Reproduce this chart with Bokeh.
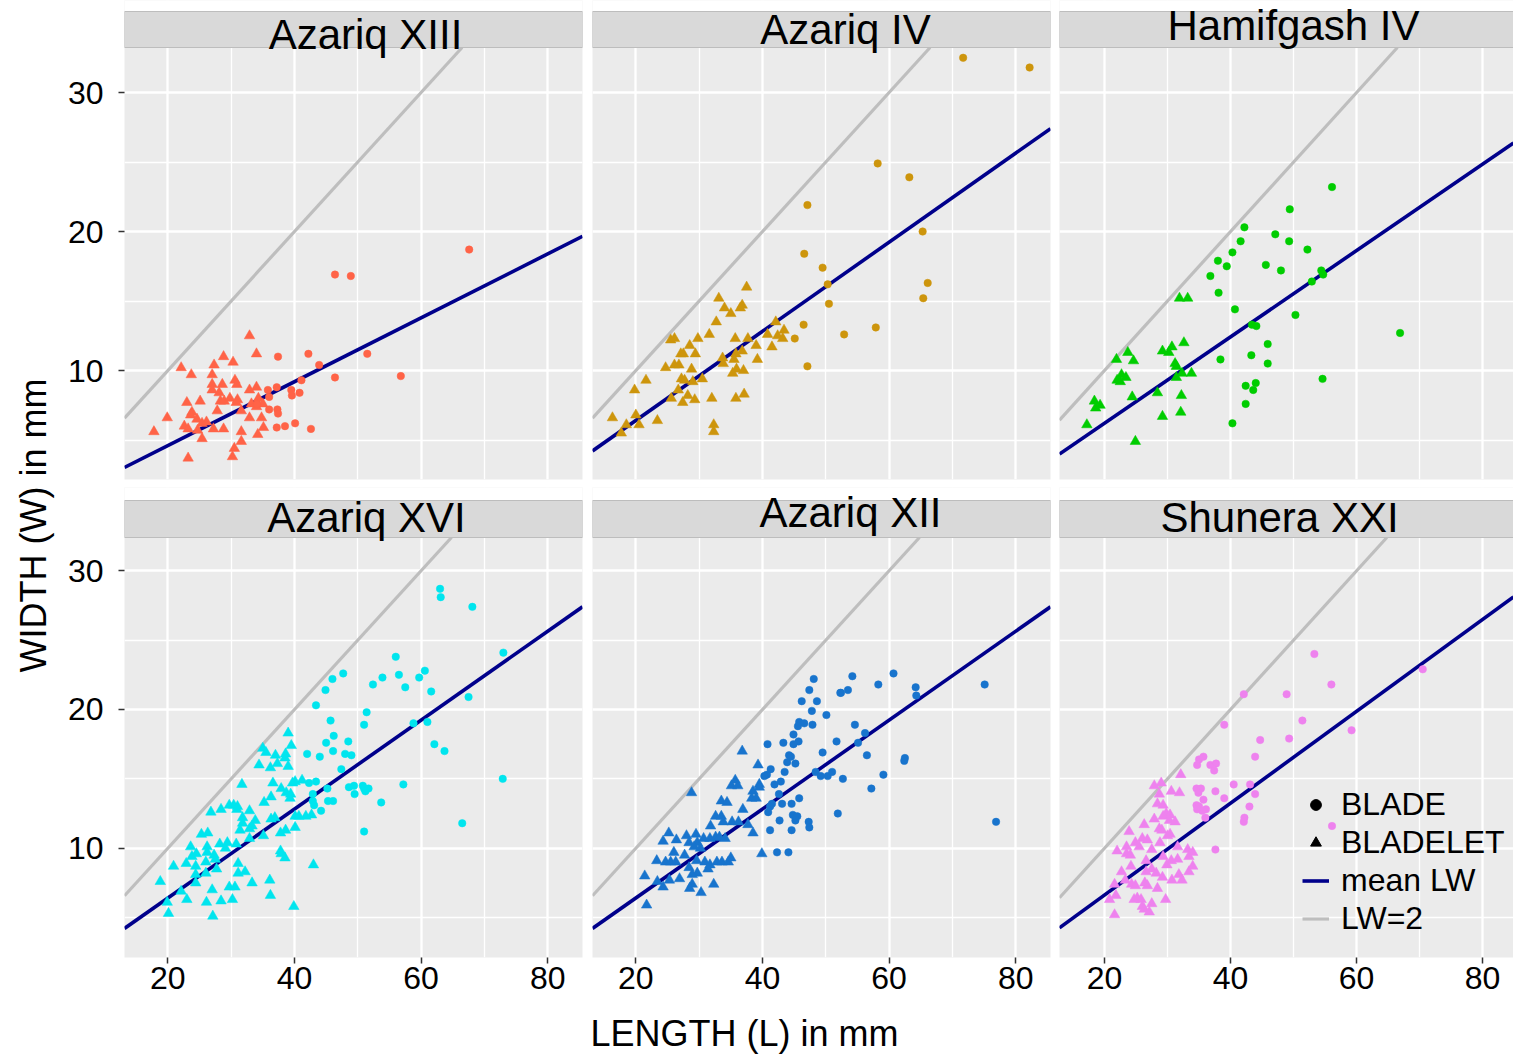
import math
from bokeh.plotting import figure
from bokeh.models import Range1d, FixedTicker, Legend, LegendItem
from bokeh.layouts import row, column
from bokeh.embed import file_html
from bokeh.resources import INLINE
from bokeh.core.properties import value

FONT = "Liberation Sans"

SITES = ["Azariq XIII", "Azariq IV", "Hamifgash IV", "Azariq XVI", "Azariq XII", "Shunera XXI"]
COLORS = ["#FF6347", "#CD950C", "#00CD00", "#00E5EE", "#1874CD", "#EE82EE"]
MEAN_LW = [4.35, 3.12, 3.22, 3.12, 3.12, 3.02]
X_TICKS = [20, 40, 60, 80]
X_MINOR = [10, 30, 50, 70, 90]
Y_TICKS = [10, 20, 30]
Y_MINOR = [5, 15, 25, 35]
LEGEND_LABELS = ["BLADE", "BLADELET", "mean LW", "LW=2"]

# ---------------- data (L, W in mm) ----------------
az13_blade_L = [67.6, 46.4, 48.9, 37.4, 42.2, 51.5, 43.9, 46.4, 56.8, 41.1, 35.8, 37.2, 39.5, 39.6, 40.8, 36.0, 36.0, 37.3, 37.4, 37.2, 38.5, 40.1, 42.6, 34.1]
az13_blade_W = [18.7, 16.9, 16.8, 11.0, 11.2, 11.2, 10.4, 9.5, 9.6, 9.3, 8.6, 8.8, 8.6, 8.2, 8.4, 8.1, 7.2, 7.2, 6.9, 5.9, 6.0, 6.2, 5.8, 7.6]
az13_bladelet_L = [32.9, 34.0, 28.8, 30.3, 27.3, 22.1, 23.7, 27.0, 30.6, 27.0, 28.6, 30.9, 34.0, 27.0, 28.1, 32.9, 23.0, 25.1, 28.3, 28.9, 29.8, 31.0, 30.8, 34.3, 33.2, 35.0, 34.0, 27.8, 31.6, 23.8, 23.6, 19.9, 24.6, 25.4, 26.1, 32.9, 34.8, 22.6, 23.2, 24.7, 27.2, 28.8, 35.1, 17.8, 31.6, 34.2, 25.4, 31.6, 30.5, 23.2, 30.2]
az13_bladelet_W = [12.5, 11.2, 11.0, 10.6, 10.4, 10.2, 9.7, 9.7, 9.3, 9.0, 9.0, 9.0, 8.8, 8.6, 8.4, 8.6, 7.7, 7.8, 7.8, 7.8, 8.0, 7.9, 7.7, 8.0, 7.6, 7.6, 7.4, 7.1, 7.1, 7.0, 6.8, 6.6, 6.5, 6.2, 6.3, 6.6, 6.6, 6.0, 5.8, 5.7, 5.8, 5.8, 5.9, 5.6, 5.6, 5.4, 5.1, 4.9, 4.4, 3.7, 3.8]

az4_blade_L = [46.5, 45.1, 47.1, 71.7, 82.2, 58.2, 63.2, 47.1, 65.3, 46.6, 49.5, 50.3, 66.1, 50.5, 65.4, 52.9, 57.9]
az4_blade_W = [13.3, 12.3, 10.3, 32.5, 31.8, 24.9, 23.9, 21.9, 20.0, 18.4, 17.4, 16.2, 16.3, 14.8, 15.2, 12.6, 13.1]
az4_bladelet_L = [37.5, 33.1, 36.8, 36.5, 34.0, 35.0, 32.7, 42.1, 31.6, 40.8, 43.4, 42.4, 43.2, 25.5, 26.1, 29.8, 35.7, 37.7, 28.5, 39.0, 41.5, 27.1, 27.5, 29.4, 36.8, 35.8, 33.7, 35.5, 39.2, 33.8, 24.7, 26.1, 26.8, 28.8, 35.9, 37.0, 35.3, 21.6, 27.2, 27.7, 30.5, 29.0, 19.8, 26.7, 25.6, 28.2, 27.4, 29.3, 32.0, 35.8, 37.1, 16.3, 20.0, 18.5, 20.5, 23.4, 17.7, 32.3, 32.3]
az4_bladelet_W = [16.0, 15.2, 14.7, 14.5, 14.5, 14.1, 13.5, 13.5, 12.6, 12.6, 12.9, 12.5, 12.3, 12.2, 12.3, 12.3, 12.3, 12.3, 11.8, 11.8, 11.7, 11.2, 11.2, 11.2, 11.4, 11.2, 10.9, 10.8, 10.8, 10.5, 10.2, 10.4, 10.4, 10.1, 10.1, 10.0, 9.8, 9.3, 9.4, 9.3, 9.4, 9.2, 8.6, 8.6, 8.0, 8.2, 7.7, 7.9, 8.0, 8.0, 8.3, 6.6, 6.8, 6.1, 6.1, 6.4, 5.5, 6.1, 5.6]

hm4_blade_L = [56.1, 49.4, 42.2, 47.1, 41.6, 49.3, 52.2, 40.3, 38.0, 39.4, 45.6, 48.0, 54.4, 54.7, 52.9, 36.8, 38.1, 40.7, 50.3, 43.4, 44.1, 66.9, 45.9, 43.3, 38.4, 45.9, 44.0, 42.4, 43.6, 42.4, 54.6, 40.3]
hm4_blade_W = [23.2, 21.6, 20.3, 19.8, 19.3, 19.3, 18.7, 18.5, 17.9, 17.5, 17.6, 17.2, 17.2, 16.9, 16.4, 16.8, 15.6, 14.4, 14.0, 13.3, 13.2, 12.7, 11.9, 11.1, 10.8, 10.5, 9.1, 8.9, 8.6, 7.6, 9.4, 6.2]
hm4_bladelet_L = [31.9, 33.2, 32.6, 30.7, 29.2, 30.2, 23.7, 21.9, 24.6, 31.2, 31.4, 22.7, 23.4, 22.0, 22.5, 32.3, 33.8, 31.4, 28.4, 24.4, 32.2, 18.4, 19.3, 18.6, 29.2, 32.1, 17.2, 24.9]
hm4_bladelet_W = [15.2, 15.2, 12.0, 11.7, 11.4, 11.3, 11.3, 10.8, 10.7, 10.5, 10.3, 9.7, 9.5, 9.3, 9.2, 9.8, 9.8, 9.5, 8.4, 8.1, 8.2, 7.8, 7.5, 7.3, 6.7, 7.0, 6.1, 4.9]

az16_blade_L = [63.0, 63.1, 68.1, 73.0, 56.0, 47.7, 46.0, 60.6, 56.5, 53.9, 59.7, 52.4, 44.9, 57.5, 61.6, 67.5, 43.4, 51.4, 45.7, 51.0, 58.8, 61.0, 46.2, 45.0, 48.5, 46.1, 42.0, 44.0, 48.0, 49.0, 62.1, 63.7, 47.4, 42.3, 43.4, 45.2, 72.9, 48.6, 49.4, 50.8, 51.0, 51.7, 51.2, 49.5, 57.2, 42.9, 45.3, 46.1, 42.9, 43.1, 44.2, 53.7, 66.5, 51.0]
az16_blade_W = [28.7, 28.1, 27.4, 24.1, 23.8, 22.6, 22.2, 22.8, 22.5, 22.3, 22.3, 21.8, 21.4, 21.6, 21.3, 20.9, 20.3, 19.8, 19.2, 18.9, 19.0, 19.1, 18.1, 17.6, 17.7, 17.0, 16.8, 16.6, 16.8, 16.7, 17.5, 17.0, 15.7, 14.7, 14.8, 14.3, 15.0, 14.4, 14.5, 14.5, 14.3, 14.3, 14.1, 13.9, 14.6, 13.9, 13.4, 13.4, 13.4, 13.1, 12.7, 13.3, 11.8, 11.2]
az16_bladelet_L = [39.0, 39.5, 35.0, 35.5, 37.0, 38.6, 38.5, 37.3, 34.4, 36.2, 39.0, 31.7, 36.6, 41.2, 39.7, 40.1, 37.9, 38.7, 39.4, 39.3, 36.3, 35.2, 29.7, 30.4, 31.0, 30.9, 26.8, 28.4, 32.9, 31.8, 33.8, 36.3, 36.9, 40.1, 40.7, 41.8, 42.7, 31.8, 33.3, 32.9, 31.4, 38.6, 40.1, 37.8, 35.1, 32.9, 25.3, 26.3, 23.6, 26.2, 28.2, 29.4, 29.1, 30.8, 37.8, 37.9, 38.5, 24.5, 26.2, 27.3, 27.5, 23.8, 22.9, 20.9, 24.4, 26.0, 27.7, 24.4, 26.0, 31.1, 31.1, 32.2, 43.0, 18.8, 22.1, 24.4, 27.0, 29.7, 30.6, 33.3, 36.1, 36.2, 23.0, 26.1, 28.4, 30.2, 19.9, 20.1, 27.1, 39.9]
az16_bladelet_W = [18.3, 17.4, 17.2, 16.9, 16.7, 16.8, 16.5, 16.1, 16.0, 15.8, 15.9, 14.6, 14.7, 14.9, 14.7, 14.8, 14.3, 14.0, 13.9, 13.6, 13.7, 13.3, 13.1, 13.1, 13.0, 12.8, 12.6, 12.8, 12.7, 12.2, 12.0, 12.1, 12.2, 12.3, 12.3, 12.3, 12.4, 11.8, 11.6, 11.4, 11.3, 11.3, 11.5, 11.1, 10.9, 10.7, 11.0, 11.1, 10.1, 10.1, 10.3, 10.4, 10.0, 10.3, 9.8, 9.6, 9.3, 9.6, 9.7, 9.5, 9.2, 9.4, 8.9, 8.7, 8.7, 9.0, 8.5, 8.1, 8.2, 8.9, 8.2, 8.3, 8.8, 7.6, 6.9, 7.5, 7.0, 7.2, 7.2, 7.5, 7.7, 6.6, 6.3, 6.1, 6.2, 6.3, 6.1, 5.3, 5.1, 5.8]

az12_blade_L = [40.8, 43.3, 40.7, 41.3, 40.3, 41.9, 42.9, 43.5, 43.9, 44.2, 42.6, 43.1, 41.2, 40.9, 41.5, 42.7, 41.2, 42.3, 44.1, 48.1, 54.2, 60.7, 47.4, 52.4, 53.5, 52.3, 58.3, 64.2, 64.3, 75.1, 46.2, 48.6, 47.8, 50.1, 45.8, 46.6, 45.6, 47.9, 54.6, 44.9, 45.7, 44.9, 51.7, 56.2, 55.1, 49.5, 44.5, 45.2, 56.5, 62.5, 62.4, 48.4, 49.2, 50.3, 51.0, 52.7, 59.1, 57.2, 45.8, 44.6, 44.8, 45.5, 45.2, 51.9, 47.3, 47.4, 44.6, 76.9]
az12_blade_W = [17.5, 17.6, 15.3, 15.7, 15.2, 14.6, 14.8, 15.5, 16.2, 16.7, 13.9, 13.2, 13.0, 12.6, 13.2, 12.0, 11.3, 9.7, 9.7, 22.2, 22.4, 22.6, 21.4, 21.2, 21.4, 21.2, 21.8, 21.6, 21.0, 21.8, 20.6, 20.6, 19.9, 19.6, 19.1, 19.0, 18.8, 18.9, 18.9, 18.2, 17.7, 17.5, 17.7, 18.3, 17.6, 16.9, 16.6, 16.1, 16.7, 16.5, 16.3, 15.5, 15.2, 15.2, 15.5, 15.0, 15.3, 14.3, 13.6, 13.2, 12.4, 12.3, 12.0, 12.5, 11.9, 11.5, 11.3, 11.9]
az12_bladelet_L = [36.8, 28.8, 39.3, 35.7, 35.1, 36.1, 39.5, 39.5, 38.5, 38.3, 39.0, 33.5, 34.4, 36.9, 32.6, 33.5, 33.8, 35.2, 36.2, 37.7, 31.8, 38.5, 25.2, 24.3, 26.4, 28.0, 29.5, 28.4, 29.7, 30.7, 31.7, 32.6, 33.2, 34.1, 29.2, 30.2, 26.0, 27.7, 23.3, 24.7, 25.5, 26.3, 29.6, 30.9, 31.7, 32.8, 33.6, 34.6, 35.0, 31.4, 28.4, 29.7, 28.9, 21.4, 25.3, 26.9, 23.4, 28.9, 32.3, 24.3, 28.5, 30.3, 21.7, 39.9]
az12_bladelet_W = [17.0, 14.0, 16.0, 14.9, 14.5, 14.5, 14.6, 14.4, 14.1, 13.6, 13.6, 13.4, 13.3, 12.8, 12.3, 12.3, 11.9, 11.9, 11.9, 11.7, 11.6, 11.1, 11.1, 10.5, 10.6, 10.9, 11.0, 10.4, 10.4, 10.7, 10.7, 10.8, 10.8, 10.7, 10.1, 10.0, 9.7, 9.5, 9.1, 9.0, 9.0, 9.0, 9.1, 9.0, 8.8, 9.0, 9.0, 9.0, 9.3, 8.5, 8.6, 8.2, 8.1, 8.0, 7.7, 7.8, 7.6, 7.4, 7.4, 7.2, 7.1, 6.8, 5.9, 9.6]

sh21_blade_L = [53.3, 56.0, 42.1, 48.9, 51.4, 59.2, 39.0, 44.7, 49.3, 43.9, 35.0, 35.7, 34.7, 36.8, 37.7, 37.4, 40.5, 43.1, 34.6, 35.3, 34.9, 37.6, 43.9, 35.7, 39.0, 34.6, 35.0, 35.5, 36.1, 34.7, 43.0, 42.2, 42.1, 36.0, 56.1, 37.6, 70.5]
sh21_blade_W = [24.0, 21.8, 21.1, 21.1, 19.2, 18.5, 18.9, 17.8, 17.9, 16.6, 16.4, 16.6, 16.0, 16.0, 16.1, 15.6, 14.6, 14.6, 14.3, 14.3, 14.0, 14.1, 13.9, 13.5, 13.6, 13.1, 13.0, 12.7, 12.8, 12.8, 13.0, 12.2, 11.9, 12.2, 11.6, 9.9, 22.9]
sh21_bladelet_L = [32.1, 27.9, 29.0, 30.6, 31.9, 28.7, 28.4, 29.3, 29.8, 29.3, 30.4, 27.9, 30.3, 31.2, 26.3, 28.7, 29.1, 23.9, 30.0, 30.4, 26.0, 26.8, 24.9, 23.5, 25.5, 27.5, 28.8, 22.0, 31.6, 33.2, 34.0, 23.5, 24.1, 29.3, 33.4, 26.6, 30.6, 31.6, 24.2, 27.5, 29.9, 34.0, 22.7, 26.6, 28.2, 29.2, 30.7, 31.8, 32.3, 33.4, 23.3, 24.3, 24.9, 26.4, 26.8, 28.4, 21.6, 20.8, 21.8, 25.2, 25.8, 24.7, 29.7, 26.0, 27.5, 26.3, 27.1, 21.6]
sh21_bladelet_W = [15.3, 14.5, 14.7, 14.1, 14.0, 13.9, 13.2, 13.1, 12.5, 12.3, 12.4, 12.1, 12.0, 11.9, 11.7, 11.4, 11.3, 11.2, 10.9, 11.0, 10.7, 10.6, 10.4, 10.1, 10.1, 9.9, 10.4, 9.8, 10.1, 9.9, 9.7, 9.6, 9.5, 9.4, 9.4, 9.1, 9.1, 9.2, 8.7, 8.5, 8.8, 8.7, 8.3, 8.3, 8.2, 7.9, 7.7, 8.1, 7.7, 8.3, 7.7, 7.4, 7.3, 7.5, 7.3, 7.1, 7.4, 6.3, 6.6, 6.4, 6.3, 6.3, 6.3, 5.8, 6.0, 5.6, 5.4, 5.2]

BLADE_L = [az13_blade_L, az4_blade_L, hm4_blade_L, az16_blade_L, az12_blade_L, sh21_blade_L]
BLADE_W = [az13_blade_W, az4_blade_W, hm4_blade_W, az16_blade_W, az12_blade_W, sh21_blade_W]
BLADELET_L = [az13_bladelet_L, az4_bladelet_L, hm4_bladelet_L, az16_bladelet_L, az12_bladelet_L, sh21_bladelet_L]
BLADELET_W = [az13_bladelet_W, az4_bladelet_W, hm4_bladelet_W, az16_bladelet_W, az12_bladelet_W, sh21_bladelet_W]

# ---------------- layout geometry (pixels) ----------------
X_RANGES = [(13.15, 85.5), (13.15, 85.5), (12.86, 84.9)]
Y_RANGES = [(2.16, 33.24), (2.12, 32.40)]
FRAME_W = [458, 458, 454]
BORDER_L = [64, 5, 4]
BORDER_R = [5, 5, 0]
PANEL_H = [432, 420]
STRIP_H = [36, 37]
TOP_BAND = [11, 13]         # white band above the strips (inside the frame)
BORDER_B = [8, 48]
STRIP_FONT = 42
BASELINE_FIX = 0.33         # renderer draws alphabetic baseline ~0.33em low
STRIP_TEXT_RAISE = [-1, 4, 8, 6, 11, 6]   # wanted baseline height above strip bottom
STRIP_TEXT_DX = [12, 24, 7, 13, 29, -7]   # horizontal offset of strip text from strip centre
XLAB_H = 51
XLAB_FONT = 36
YLAB_W = 60

GREY_BG = "#EBEBEB"
STRIP_BG = "#D9D9D9"
NAVY = "#00008B"
LW2_GREY = "#BEBEBE"


def style_axis(ax):
    ax.axis_line_color = None
    ax.major_tick_line_color = "#333333"
    ax.major_tick_line_width = 1.5
    ax.major_tick_in = 0
    ax.major_tick_out = 6
    ax.minor_tick_line_color = None
    ax.major_label_text_font = FONT
    ax.major_label_text_font_size = "32px"
    ax.major_label_text_color = "black"


def make_panel(i):
    rw, col = divmod(i, 3)
    xr, (y0, y1) = X_RANGES[col], Y_RANGES[rw]
    scale = PANEL_H[rw] / (y1 - y0)
    xscale = FRAME_W[col] / (xr[1] - xr[0])
    y_strip_top = y1 + STRIP_H[rw] / scale
    y_frame_top = y_strip_top + TOP_BAND[rw] / scale
    frame_h = PANEL_H[rw] + STRIP_H[rw] + TOP_BAND[rw]
    p = figure(width=FRAME_W[col] + BORDER_L[col] + BORDER_R[col],
               height=frame_h + BORDER_B[rw],
               x_range=Range1d(*xr), y_range=Range1d(y0, y_frame_top),
               output_backend="svg", toolbar_location=None, tools="",
               min_border_left=BORDER_L[col], min_border_right=BORDER_R[col],
               min_border_top=0, min_border_bottom=BORDER_B[rw])
    p.background_fill_color = GREY_BG
    p.border_fill_color = "white"
    p.outline_line_color = None

    xt = FixedTicker(ticks=X_TICKS, minor_ticks=X_MINOR)
    yt = FixedTicker(ticks=Y_TICKS, minor_ticks=Y_MINOR)
    p.xaxis.ticker = xt
    p.yaxis.ticker = yt
    p.xgrid.ticker = xt
    p.ygrid.ticker = yt
    for g in (p.xgrid, p.ygrid):
        g.grid_line_color = "white"
        g.grid_line_width = 2.3
        g.minor_grid_line_color = "white"
        g.minor_grid_line_width = 1.3

    style_axis(p.xaxis[0])
    style_axis(p.yaxis[0])
    p.xaxis.major_label_standoff = 3
    p.yaxis.major_label_standoff = 15
    p.xaxis.visible = (rw == 1)
    p.yaxis.visible = (col == 0)

    # reference lines W = L/2 and W = L/meanLW, ending at the top of the data area
    x_end2 = min(xr[1], 2.0 * y1)
    xs2 = [xr[0], x_end2]
    p.line(xs2, [x / 2.0 for x in xs2], line_color=LW2_GREY, line_width=3.2)
    x_endm = min(xr[1], MEAN_LW[i] * y1)
    xsm = [xr[0], x_endm]
    p.line(xsm, [x / MEAN_LW[i] for x in xsm], line_color=NAVY, line_width=3.6)

    c = COLORS[i]
    p.scatter(x=BLADELET_L[i], y=BLADELET_W[i], marker="triangle", size=10.5,
              fill_color=c, line_color=c, line_width=0.5)
    p.scatter(x=BLADE_L[i], y=BLADE_W[i], marker="circle", size=7.5,
              fill_color=c, line_color=c, line_width=0.5)

    # facet strip (drawn inside the frame, above the data area)
    p.quad(left=[xr[0] - 1], right=[xr[1] + 1], bottom=[y_strip_top], top=[y_frame_top + 1],
           fill_color="white", line_color=None)
    p.quad(left=[xr[0]], right=[xr[1]], bottom=[y1], top=[y_strip_top],
           fill_color=STRIP_BG, line_color="#BDBDBD", line_width=1)
    raise_px = STRIP_TEXT_RAISE[i] + BASELINE_FIX * STRIP_FONT
    p.text(x=[(xr[0] + xr[1]) / 2.0 + STRIP_TEXT_DX[i] / xscale], y=[y1 + raise_px / scale],
           text=[SITES[i]], text_align="center", text_baseline="alphabetic",
           text_font=value(FONT), text_font_size=f"{STRIP_FONT}px", text_color="black")

    if i == 5:
        nan = [float("nan")]
        r1 = p.scatter(x=nan, y=nan, marker="circle", size=6.5, color="black")
        r2 = p.scatter(x=nan, y=nan, marker="triangle", size=8, color="black")
        r3 = p.line(x=nan, y=nan, line_color=NAVY, line_width=3.6)
        r4 = p.line(x=nan, y=nan, line_color=LW2_GREY, line_width=3.2)
        items = [LegendItem(label=t, renderers=[r]) for t, r in zip(LEGEND_LABELS, [r1, r2, r3, r4])]
        leg = Legend(items=items, location=(243, 20), padding=0, margin=0,
                     spacing=1, glyph_width=27, glyph_height=27, label_standoff=12,
                     label_text_font=FONT, label_text_font_size="32px",
                     label_text_color="black",
                     background_fill_alpha=0, border_line_color=None)
        p.add_layout(leg)
    return p


def blank(width, height):
    f = figure(width=width, height=height, x_range=Range1d(0, 1), y_range=Range1d(0, 1),
               output_backend="svg", toolbar_location=None, tools="", min_border=0)
    f.outline_line_color = None
    f.background_fill_color = "white"
    f.border_fill_color = "white"
    f.xaxis.visible = False
    f.yaxis.visible = False
    f.xgrid.visible = False
    f.ygrid.visible = False
    return f


panels = [make_panel(i) for i in range(6)]

total_w = sum(FRAME_W[c] + BORDER_L[c] + BORDER_R[c] for c in range(3))
xlab = blank(total_w, XLAB_H)
# wanted baseline 11px above the bottom of the page
xlab.text(x=[(744 - YLAB_W) / total_w], y=[(11 + BASELINE_FIX * XLAB_FONT) / XLAB_H],
          text=["LENGTH (L) in mm"],
          text_align="center", text_baseline="alphabetic",
          text_font=value(FONT), text_font_size=f"{XLAB_FONT}px", text_color="black")

right_h = sum(PANEL_H[r] + STRIP_H[r] + TOP_BAND[r] + BORDER_B[r] for r in range(2)) + XLAB_H
ylab = blank(YLAB_W, right_h)
ylab.text(x=[33.0 / YLAB_W], y=[1 - 525.0 / right_h], text=["WIDTH (W) in mm"], angle=math.pi / 2,
          text_align="center", text_baseline="middle",
          text_font=value(FONT), text_font_size="36px", text_color="black")

right = column(row(*panels[0:3]), row(*panels[3:6]), xlab)
layout = row(ylab, right)

open("out.html", "w").write(file_html(layout, INLINE, title="Blade width vs length"))
